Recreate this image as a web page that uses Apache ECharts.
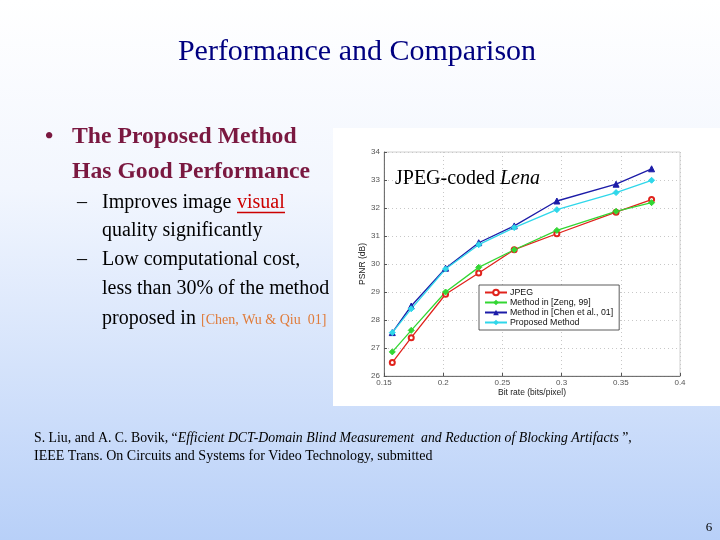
<!DOCTYPE html>
<html><head><meta charset="utf-8">
<script src="https://cdn.jsdelivr.net/npm/echarts@6/dist/echarts.min.js"></script>
<style>html,body{margin:0;padding:0;}#c{width:720px;height:540px;}</style>
</head><body><div id="c"></div>
<script>
// ---- data ----
const bitRate = [0.157, 0.173, 0.202, 0.230, 0.260, 0.296, 0.346, 0.376];
const jpeg     = [26.48, 27.37, 28.92, 29.68, 30.51, 31.08, 31.85, 32.30];
const zeng     = [26.86, 27.63, 29.00, 29.88, 30.51, 31.20, 31.88, 32.19];
const chen     = [27.55, 28.50, 29.85, 30.76, 31.36, 32.25, 32.85, 33.40];
const proposed = [27.55, 28.40, 29.82, 30.69, 31.30, 31.94, 32.55, 32.99];
const seriesNames = ['JPEG', 'Method in [Zeng, 99]', 'Method in [Chen et al., 01]', 'Proposed Method'];
const yTicks = [26, 27, 28, 29, 30, 31, 32, 33, 34];
const xTicks = [0.15, 0.2, 0.25, 0.3, 0.35, 0.4];

const pair = arr => bitRate.map((x, i) => [x, arr[i]]);
const serif = '"Liberation Serif", "Times New Roman", serif';
const sans = '"Liberation Sans", Arial, sans-serif';

const chart = echarts.init(document.getElementById('c'), null, {renderer: 'canvas'});
const mk = (name, data, color, symbol, size) => ({
  name, type: 'line', data: pair(data), symbol, symbolSize: size,
  lineStyle: {color, width: 1.3}, itemStyle: {color, borderColor: color},
  emphasis: {disabled: true}, z: 3
});
const txt = (x, y, text, font, fill, extra) => ({type: 'text', x, y,
  style: Object.assign({text, font, fill, textVerticalAlign: 'middle'}, extra || {})});
const body = '20px ' + serif;
const head = 'bold 23.7px ' + serif;
const option = {
  animation: false,
  backgroundColor: {type: 'linear', x: 0, y: 0, x2: 0, y2: 1,
    colorStops: [{offset: 0, color: '#ffffff'}, {offset: 0.35, color: '#f2f6fe'}, {offset: 1, color: '#b8d0f8'}]},
  graphic: [
    {type: 'rect', shape: {x: 333, y: 128, width: 387, height: 278}, style: {fill: '#ffffff'}, z: -10},
    txt(357, 52, 'Performance and Comparison', '30px ' + serif, '#000080',
      {textAlign: 'center', shadowColor: 'rgba(0,0,0,0.3)', shadowOffsetX: 1.5, shadowOffsetY: 1.5, shadowBlur: 1}),
    txt(45, 137, '•', head, '#7a1840'),
    txt(72, 137, 'The Proposed Method', head, '#7a1840'),
    txt(72, 172, 'Has Good Performance', head, '#7a1840'),
    txt(77, 203, '–', body, '#000'),
    txt(102, 203, 'Improves image', body, '#000'),
    txt(237, 203, 'visual', body, '#cc0000'),
    {type: 'line', shape: {x1: 237, y1: 212.5, x2: 285, y2: 212.5}, style: {stroke: '#cc0000', lineWidth: 1.5}},
    txt(102, 231, 'quality significantly', body, '#000'),
    txt(77, 260, '–', body, '#000'),
    txt(102, 260, 'Low computational cost,', body, '#000'),
    txt(102, 289, 'less than 30% of the method', body, '#000'),
    txt(102, 319, 'proposed in', body, '#000'),
    txt(201, 320, '[Chen, Wu & Qiu  01]', '14px ' + serif, '#e07b39'),
    {type: 'text', x: 395, y: 179, z: 5, style: {text: '{a|JPEG-coded }{b|Lena}', textVerticalAlign: 'middle',
      rich: {a: {font: '20px ' + serif, fill: '#000'}, b: {font: 'italic 20px ' + serif, fill: '#000'}}}},
    {type: 'text', x: 34, y: 438, style: {text: '{a|S. Liu, and A. C. Bovik, “}{b|Efficient DCT-Domain Blind Measurement  and Reduction of Blocking Artifacts}{a| ”,}',
      textVerticalAlign: 'middle', rich: {a: {font: '13.8px ' + serif, fill: '#000'}, b: {font: 'italic 13.8px ' + serif, fill: '#000'}}}},
    txt(34, 456, 'IEEE Trans. On Circuits and Systems for Video Technology, submitted', '14px ' + serif, '#000'),
    txt(709, 528, '6', '13px ' + serif, '#000', {textAlign: 'center'})
  ],
  grid: {left: 384, right: 40, top: 152, bottom: 164, show: true, borderColor: '#c4c4c4', borderWidth: 0.8, backgroundColor: 'transparent'},
  legend: {
    orient: 'vertical', left: 479, top: 285, data: seriesNames,
    backgroundColor: '#ffffff', borderColor: '#333333', borderWidth: 0.8, padding: [3, 6, 3, 5],
    itemGap: 1, itemWidth: 22, itemHeight: 7,
    textStyle: {fontFamily: sans, fontSize: 8.8, color: '#111', padding: [0, 0, 0, -2]}
  },
  xAxis: {
    type: 'value', min: 0.15, max: 0.4, interval: 0.05,
    name: 'Bit rate (bits/pixel)', nameLocation: 'middle', nameGap: 12,
    nameTextStyle: {fontFamily: sans, fontSize: 8.5, color: '#222'},
    axisLine: {lineStyle: {color: '#555', width: 0.8}},
    axisTick: {inside: true, length: 3, lineStyle: {color: '#555'}},
    axisLabel: {fontFamily: sans, fontSize: 8, color: '#555', margin: 3, formatter: v => String(+v.toFixed(2))},
    splitLine: {show: true, lineStyle: {color: '#c8c8c8', type: [1, 3], width: 1}}
  },
  yAxis: {
    type: 'value', min: 26, max: 34, interval: 1,
    name: 'PSNR (dB)', nameLocation: 'middle', nameGap: 11, nameRotate: 90,
    nameTextStyle: {fontFamily: sans, fontSize: 8.5, color: '#222'},
    axisLine: {show: true, lineStyle: {color: '#555', width: 0.8}},
    axisTick: {show: true, inside: true, length: 3, lineStyle: {color: '#555'}},
    axisLabel: {fontFamily: sans, fontSize: 8, color: '#555', margin: 4},
    splitLine: {show: true, lineStyle: {color: '#c8c8c8', type: [1, 3], width: 1}}
  },
  series: [
    mk(seriesNames[0], jpeg, '#e0231c', 'emptyCircle', 5),
    mk(seriesNames[1], zeng, '#33d633', 'diamond', 6),
    mk(seriesNames[2], chen, '#1c1ca8', 'triangle', 6),
    mk(seriesNames[3], proposed, '#2fd7ea', 'diamond', 6)
  ]
};
chart.setOption(option);
</script></body></html>
